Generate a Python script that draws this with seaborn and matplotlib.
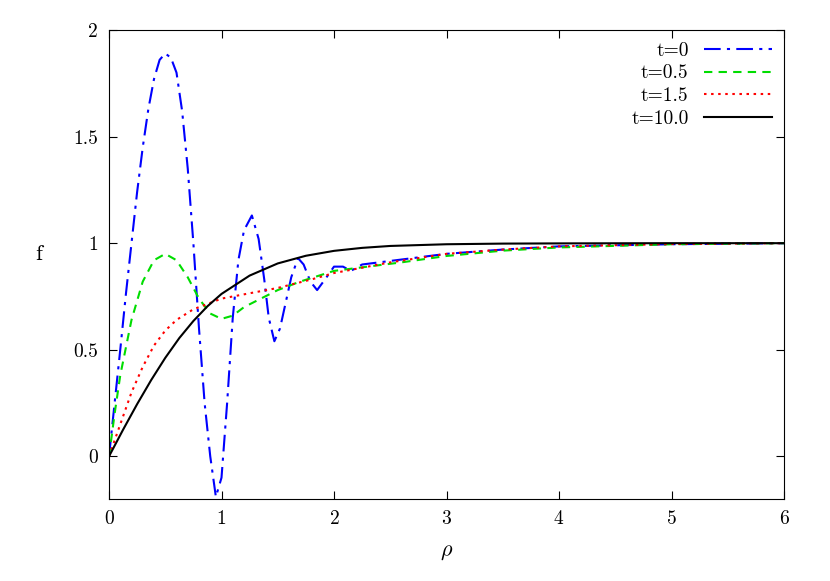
import matplotlib
matplotlib.use("Agg")
import matplotlib.pyplot as plt
import seaborn as sns
import pandas as pd

rho_t0 = [0,0.05,0.1,0.15,0.2,0.25,0.3,0.35,0.4,0.45,0.5,0.55,0.6,0.65,0.7,0.75,0.8,0.85,0.9,0.95,1.0,1.05,1.1,1.15,1.2,1.27,1.33,1.38,1.42,1.47,1.52,1.57,1.62,1.68,1.73,1.79,1.85,1.92,2.0,2.08,2.15,2.25,2.4,2.7,3.0,3.5,4.0,5.0,6.0]
f_t0   = [0,0.25,0.5,0.76,1.0,1.24,1.45,1.63,1.77,1.86,1.89,1.87,1.8,1.62,1.35,1.0,0.6,0.25,0.0,-0.19,-0.1,0.25,0.65,0.92,1.06,1.13,1.02,0.83,0.65,0.54,0.6,0.72,0.84,0.93,0.9,0.82,0.78,0.83,0.89,0.89,0.87,0.9,0.91,0.93,0.95,0.97,0.985,0.995,1.0]
rho_t05 = [0,0.05,0.1,0.2,0.3,0.4,0.5,0.6,0.7,0.8,0.9,1.0,1.1,1.2,1.35,1.5,1.7,2.0,2.3,2.6,3.0,3.5,4.0,5.0,6.0]
f_t05   = [0,0.2,0.38,0.64,0.82,0.92,0.95,0.92,0.84,0.74,0.67,0.645,0.66,0.7,0.74,0.78,0.82,0.87,0.89,0.91,0.94,0.965,0.98,0.995,1.0]
rho_t15 = [0,0.1,0.2,0.3,0.4,0.5,0.6,0.75,0.9,1.0,1.2,1.5,1.8,2.0,2.5,3.0,3.5,4.0,5.0,6.0]
f_t15   = [0,0.15,0.3,0.42,0.52,0.59,0.64,0.69,0.72,0.74,0.76,0.79,0.83,0.86,0.91,0.95,0.97,0.985,0.996,1.0]
rho_t10 = [0,0.125,0.25,0.375,0.5,0.625,0.75,0.875,1.0,1.25,1.5,1.75,2.0,2.25,2.5,3.0,3.5,4.0,5.0,6.0]
f_t10   = [0,0.125,0.245,0.358,0.462,0.555,0.635,0.704,0.762,0.848,0.905,0.941,0.964,0.978,0.987,0.995,0.998,0.999,1.0,1.0]

labels = ["t=0","t=0.5","t=1.5","t=10.0"]
series = [(rho_t0,f_t0),(rho_t05,f_t05),(rho_t15,f_t15),(rho_t10,f_t10)]
df = pd.concat([pd.DataFrame({"rho":r,"f":f,"t":l}) for l,(r,f) in zip(labels,series)])

plt.rcParams.update({"font.family":"serif","font.serif":["cmr10","DejaVu Serif"],
                     "axes.formatter.use_mathtext":True,"mathtext.fontset":"cm","font.size":14})
fig = plt.figure(figsize=(8.3,5.81),dpi=100)
ax = fig.add_axes([109/830,82/581,675/830,469/581])
colors = ["#0000ff","#00dd00","#ff0000","#000000"]
dashes = [(8,3,1.5,3),(4,3),(1.2,2.2),""]
for l,c,d in zip(labels,colors,dashes):
    sns.lineplot(data=df[df.t==l],x="rho",y="f",color=c,dashes=False,lw=1.5,ax=ax,label=l,sort=False)
    ln = ax.get_lines()[-1]
    if d: ln.set_dashes(d)
ax.set_xlim(0,6); ax.set_ylim(-0.2,2)
ax.set_xticks(range(7)); ax.set_yticks([0,0.5,1,1.5,2])
ax.set_yticklabels(["0","0.5","1","1.5","2"])
ax.tick_params(direction="in",top=True,right=True,length=6,labelsize=14,pad=8)
ax.set_xlabel(r"$\rho$",fontsize=16,labelpad=10)
ax.set_ylabel("f",rotation=0,fontsize=16,labelpad=25)
ax.legend(loc="upper right",frameon=False,markerfirst=False,handlelength=3.5,fontsize=14,
          borderaxespad=0.2,labelspacing=0.25)
fig.savefig("out.png",dpi=100)
